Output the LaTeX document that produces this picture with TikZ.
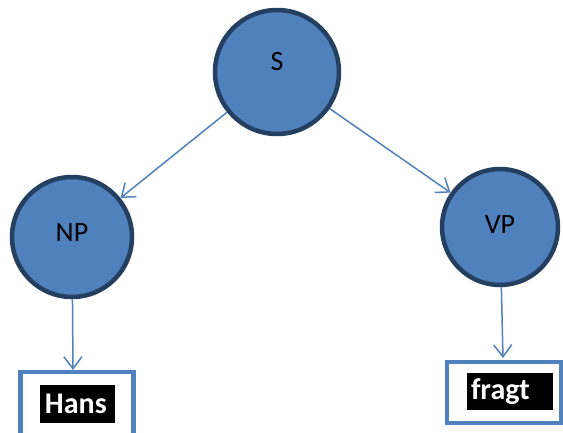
\documentclass[tikz,border=0pt]{standalone}
\usepackage{fontspec}
\setmainfont{Carlito}
\usetikzlibrary{arrows.meta}
\definecolor{fillblue}{HTML}{4F81BD}
\definecolor{rimblue}{HTML}{243F60}
\tikzset{
  cnode/.style={circle, draw=rimblue, fill=fillblue, line width=4.5pt, minimum size=#1, inner sep=0pt},
  conn/.style={draw=fillblue, line width=1.5pt, -{Straight Barb[length=12pt,width=18pt,line width=1.5pt]}},
  wordbox/.style={draw=fillblue, line width=4.5pt, rectangle, inner sep=0pt},
  hl/.style={fill=black, text=white, font=\fontsize{30}{32}\selectfont\bfseries, inner ysep=0pt},
  lbl/.style={font=\fontsize{28}{30}\selectfont, text=black}
}
\begin{document}
\begin{tikzpicture}[x=1pt,y=-1pt]
\useasboundingbox (0,0) rectangle (563,432);
\clip (0,0) rectangle (563,432);
\node[cnode=124pt] (S) at (277,72) {};
\node[cnode=120pt] (NP) at (72,237) {};
\node[cnode=116pt] (VP) at (500,227) {};
\node[lbl] (Sl) at (277,62) {S};
\node[lbl] (NPl) at (72,233) {NP};
\node[lbl] (VPl) at (500,225) {VP};
\node[wordbox, minimum width=113pt, minimum height=72pt] (hansbox) at (77,408) {};
\node[wordbox, minimum width=114pt, minimum height=61pt] (fragtbox) at (504,392.5) {};
\node[hl, inner xsep=5pt, minimum height=38pt, text width=65pt, align=left] (hans) at (77.5,404) {Hans};
\node[hl, inner xsep=4pt, minimum height=37pt, text width=78pt, align=left] (fragt) at (510,391.5) {fragt};
\coordinate (npend) at (73,370);
\coordinate (vpend) at (503,358);
\draw[conn] (S) -- (NP);
\draw[conn] (S) -- (VP);
\draw[conn] (NP) -- (npend);
\draw[conn] (VP) -- (vpend);
\end{tikzpicture}
\end{document}
